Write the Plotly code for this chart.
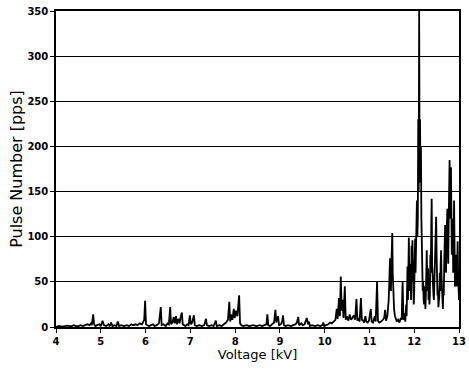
import plotly.graph_objects as go

voltage_kv = [
    4.00, 4.05, 4.10, 4.15, 4.20, 4.25, 4.30, 4.35, 4.40, 4.45, 4.50, 4.55, 4.60, 4.65, 4.70, 4.75,
    4.78, 4.80, 4.83, 4.85, 4.88, 4.92, 4.97, 5.00, 5.04, 5.07, 5.12, 5.17, 5.20, 5.23, 5.26, 5.30,
    5.35, 5.38, 5.41, 5.46, 5.52, 5.58, 5.63, 5.68, 5.72, 5.78, 5.82, 5.87, 5.92, 5.95, 5.97, 5.99,
    6.01, 6.04, 6.08, 6.12, 6.17, 6.20, 6.25, 6.30, 6.34, 6.36, 6.40, 6.45, 6.49, 6.52, 6.55, 6.57,
    6.60, 6.63, 6.65, 6.68, 6.70, 6.73, 6.76, 6.78, 6.81, 6.83, 6.86, 6.89, 6.93, 6.96, 6.99, 7.01,
    7.04, 7.08, 7.10, 7.14, 7.20, 7.26, 7.31, 7.35, 7.37, 7.42, 7.47, 7.52, 7.57, 7.59, 7.65, 7.70,
    7.75, 7.80, 7.84, 7.87, 7.89, 7.92, 7.94, 7.97, 7.99, 8.02, 8.05, 8.07, 8.09, 8.11, 8.14, 8.18,
    8.25, 8.32, 8.40, 8.48, 8.55, 8.60, 8.65, 8.70, 8.72, 8.74, 8.78, 8.83, 8.87, 8.90, 8.92, 8.94,
    8.96, 8.98, 9.02, 9.05, 9.07, 9.09, 9.13, 9.18, 9.25, 9.30, 9.35, 9.38, 9.41, 9.43, 9.48, 9.51,
    9.55, 9.58, 9.60, 9.63, 9.65, 9.67, 9.72, 9.78, 9.85, 9.90, 9.95, 9.97, 9.99, 10.03, 10.08, 10.12,
    10.16, 10.20, 10.24, 10.27, 10.29, 10.32, 10.34, 10.36, 10.38, 10.40, 10.42, 10.45, 10.47, 10.50,
    10.53, 10.56, 10.59, 10.62, 10.65, 10.68, 10.71, 10.73, 10.76, 10.78, 10.81, 10.83, 10.86, 10.88,
    10.91, 10.93, 10.96, 10.99, 11.03, 11.05, 11.08, 11.12, 11.14, 11.17, 11.19, 11.22, 11.26, 11.30,
    11.33, 11.35, 11.37, 11.40, 11.42, 11.43, 11.44, 11.45, 11.46, 11.47, 11.48, 11.49, 11.50, 11.51,
    11.52, 11.53, 11.54, 11.55, 11.57, 11.58, 11.61, 11.64, 11.67, 11.70, 11.72, 11.74, 11.76, 11.78,
    11.80, 11.81, 11.82, 11.83, 11.84, 11.85, 11.86, 11.87, 11.88, 11.89, 11.90, 11.91, 11.92, 11.93,
    11.94, 11.95, 11.96, 11.97, 11.98, 11.99, 12.00, 12.01, 12.02, 12.03, 12.04, 12.05, 12.06, 12.07,
    12.08, 12.09, 12.10, 12.11, 12.12, 12.13, 12.14, 12.15, 12.16, 12.17, 12.18, 12.19, 12.20, 12.21,
    12.22, 12.23, 12.24, 12.25, 12.26, 12.27, 12.28, 12.29, 12.30, 12.31, 12.32, 12.33, 12.34, 12.35,
    12.36, 12.37, 12.38, 12.39, 12.40, 12.41, 12.42, 12.43, 12.44, 12.45, 12.46, 12.47, 12.48, 12.49,
    12.50, 12.51, 12.52, 12.53, 12.54, 12.55, 12.56, 12.57, 12.58, 12.59, 12.60, 12.61, 12.62, 12.63,
    12.64, 12.65, 12.66, 12.67, 12.68, 12.69, 12.70, 12.71, 12.72, 12.73, 12.74, 12.75, 12.76, 12.77,
    12.78, 12.79, 12.80, 12.81, 12.82, 12.83, 12.84, 12.85, 12.86, 12.87, 12.88, 12.89, 12.90, 12.91,
    12.92, 12.93, 12.94, 12.95, 12.96, 12.97, 12.98, 12.99, 13.00,
]

pulse_pps = [
    0, 1, 1, 0.5, 1, 1.5, 1, 1, 2, 1, 1, 2, 1, 2, 3, 2,
    4, 2, 14, 3, 1, 2, 3, 1, 7, 2, 1, 3, 1, 5, 1, 2,
    1, 6, 1, 2, 1, 2, 1, 3, 2, 3, 2, 4, 3, 6, 8, 29,
    3, 2, 1, 2, 3, 1, 2, 4, 22, 2, 3, 1, 4, 3, 22, 3,
    5, 11, 4, 12, 3, 9, 4, 10, 16, 3, 2, 1, 3, 2, 13, 3,
    5, 13, 2, 1, 2, 1, 2, 9, 2, 1, 2, 1, 7, 1, 2, 1,
    3, 5, 8, 28, 6, 14, 8, 20, 10, 18, 12, 22, 35, 4, 2, 1,
    2, 1, 2, 1, 2, 1, 2, 3, 14, 2, 1, 3, 5, 19, 5, 9,
    12, 2, 3, 6, 13, 2, 1, 2, 1, 2, 3, 5, 11, 2, 4, 2,
    3, 7, 10, 3, 6, 1, 2, 1, 2, 1, 2, 5, 1, 2, 3, 5,
    4, 6, 8, 20, 9, 32, 12, 56, 18, 30, 10, 45, 8, 12,
    7, 14, 8, 10, 13, 8, 31, 7, 10, 6, 32, 8, 7, 5,
    12, 6, 5, 7, 20, 6, 5, 12, 6, 50, 7, 5, 6, 8,
    10, 19, 7, 12, 20, 30, 45, 60, 76, 50, 40, 70, 85, 104,
    60, 45, 30, 20, 12, 10, 6, 8, 5, 10, 8, 50, 8, 15,
    6, 15, 25, 12, 40, 67, 30, 60, 99, 45, 40, 70, 55, 30,
    90, 50, 96, 70, 60, 25, 40, 70, 98, 60, 80, 110, 140, 100,
    120, 230, 150, 350, 180, 230, 160, 200, 120, 96, 60, 40, 50, 30,
    25, 45, 30, 20, 35, 60, 85, 50, 40, 65, 30, 40, 25, 35,
    80, 60, 110, 142, 70, 50, 60, 35, 30, 55, 50, 90, 100, 122,
    80, 50, 35, 40, 22, 30, 35, 60, 40, 70, 85, 55, 40, 25,
    20, 40, 35, 70, 90, 113, 75, 60, 95, 110, 131, 90, 70, 120,
    160, 185, 140, 120, 177, 130, 80, 100, 120, 60, 90, 140, 70, 45,
    60, 80, 55, 45, 70, 95, 60, 40, 30,
]

x_ticks = [4, 5, 6, 7, 8, 9, 10, 11, 12, 13]
y_ticks = [0, 50, 100, 150, 200, 250, 300, 350]

fig = go.Figure()
fig.add_trace(go.Scatter(
    x=voltage_kv, y=pulse_pps, mode="lines",
    line=dict(color="black", width=1.8),
    showlegend=False, hoverinfo="skip",
))

font_family = "DejaVu Sans"
fig.update_layout(
    width=469, height=373,
    margin=dict(l=56, r=10, t=11, b=46),
    paper_bgcolor="white", plot_bgcolor="white",
    font=dict(family=font_family, color="black", size=11),
)
fig.update_xaxes(
    range=[4, 13], tickvals=x_ticks, ticktext=[str(t) for t in x_ticks],
    showgrid=False, zeroline=False,
    showline=True, linecolor="black", linewidth=1.5, mirror=True,
    ticks="outside", ticklen=4, tickcolor="black", tickwidth=1.2,
    tickfont=dict(size=10, family=font_family, color="black", weight="bold"),
    ticklabeloverflow="allow",
    title=dict(text="Voltage [kV]", font=dict(size=13, family=font_family), standoff=2),
    automargin=False,
)
fig.update_yaxes(
    range=[0, 350], tickvals=y_ticks, ticktext=[str(t) for t in y_ticks],
    showgrid=True, gridcolor="black", gridwidth=1.3, zeroline=False,
    showline=True, linecolor="black", linewidth=1.5, mirror=True,
    ticks="outside", ticklen=4, tickcolor="black", tickwidth=1.2,
    tickfont=dict(size=10, family=font_family, color="black", weight="bold"),
    ticklabeloverflow="allow",
    title=dict(text="Pulse Number [pps]", font=dict(size=16, family=font_family), standoff=1),
    automargin=False,
)

# remove the default page margin so the figure sits at the window's top-left corner
fig.write_html(
    "out.html",
    config={"displayModeBar": False},
    post_script="document.body.style.margin='0';document.body.style.overflow='hidden';",
)
